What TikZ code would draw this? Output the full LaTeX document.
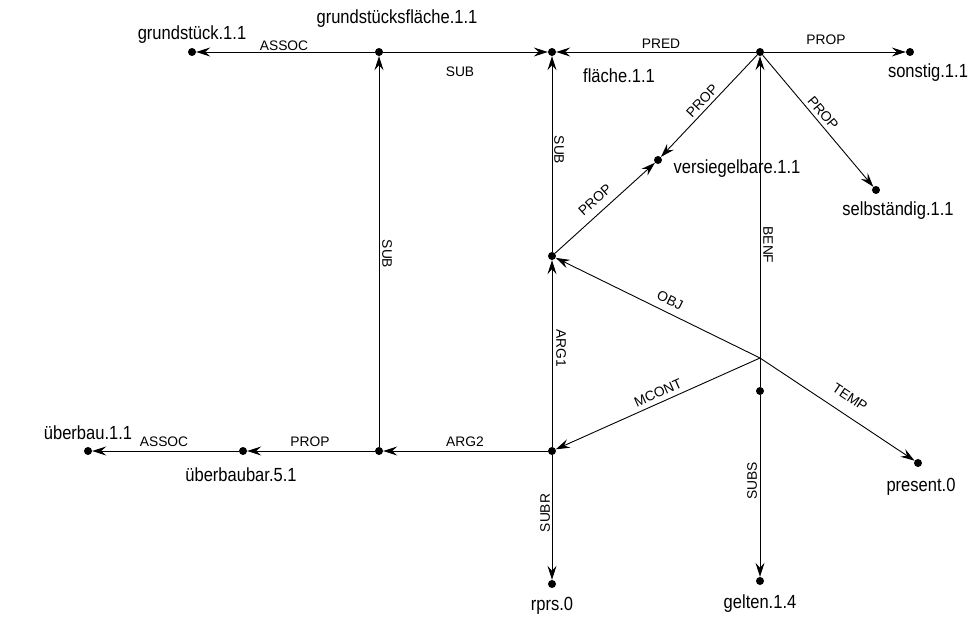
\documentclass[tikz,border=0pt]{standalone}
\usepackage{fontspec}
\setmainfont{Liberation Sans}
\usetikzlibrary{arrows.meta}
\begin{document}
\begin{tikzpicture}[x=1pt,y=-1pt,
  dot/.style={circle,fill=black,inner sep=0pt,minimum size=8pt},
  edge/.style={draw=black,line width=0.9pt,-{Stealth[length=14pt,width=9pt,inset=5pt]}},
  nlab/.style={font=\fontsize{19}{21}\selectfont,inner sep=0pt,xscale=0.87},
  elab/.style={font=\fontsize{13.8}{15}\selectfont,inner sep=0pt}]
\useasboundingbox (0,0) rectangle (970,624);
% nodes
\node[dot] (gs)  at (192,52) {};
\node[dot] (gsf) at (379,52) {};
\node[dot] (fl)  at (552,52) {};
\node[dot] (p)   at (760,52) {};
\node[dot] (so)  at (910,52) {};
\node[dot] (ve)  at (658,160) {};
\node[dot] (se)  at (876,190) {};
\node[dot] (a)   at (552,256) {};
\coordinate (c)  at (760,358);
\node[dot] (d)   at (760,391) {};
\node[dot] (pr)  at (918,463) {};
\node[dot] (ub)  at (88,451) {};
\node[dot] (ubb) at (243,451) {};
\node[dot] (b)   at (379,451) {};
\node[dot] (e)   at (552,451) {};
\node[dot] (rp)  at (552,584) {};
\node[dot] (ge)  at (760,581) {};
% node labels
\node[nlab] (lgs)  at (192,35) {grundstück.1.1};
\node[nlab] (lgsf) at (397,19) {grundstücksfläche.1.1};
\node[nlab] (lfl)  at (619,76) {fläche.1.1};
\node[nlab] (lso)  at (928,73) {sonstig.1.1};
\node[nlab] (lve)  at (737,169) {versiegelbare.1.1};
\node[nlab] (lse)  at (898,211) {selbständig.1.1};
\node[nlab] (lpr)  at (921,487) {present.0};
\node[nlab] (lub)  at (88,433) {überbau.1.1};
\node[nlab] (lubb) at (241,475) {überbaubar.5.1};
\node[nlab] (lrp)  at (552,606) {rprs.0};
\node[nlab] (lge)  at (760,604) {gelten.1.4};
% edges
\draw[edge] (gsf) -- (gs);
\draw[edge] (gsf) -- (fl);
\draw[edge] (p) -- (fl);
\draw[edge] (p) -- (so);
\draw[edge] (p) -- (ve);
\draw[edge] (p) -- (se);
\draw[edge] (a) -- (fl);
\draw[edge] (a) -- (ve);
\draw[edge] (d) -- (p);
\draw[edge] (c) -- (a);
\draw[edge] (c) -- (e);
\draw[edge] (c) -- (pr);
\draw[edge] (d) -- (ge);
\draw[edge] (e) -- (a);
\draw[edge] (e) -- (b);
\draw[edge] (e) -- (rp);
\draw[edge] (b) -- (gsf);
\draw[edge] (b) -- (ubb);
\draw[edge] (ubb) -- (ub);
% edge labels
\node[elab] (t1) at (284,46) {ASSOC};
\node[elab] (t2) at (460,72) {SUB};
\node[elab] (t3) at (661,44) {PRED};
\node[elab] (t4) at (826,40) {PROP};
\node[elab,rotate=46.6] (t5) at (702,101) {PROP};
\node[elab,rotate=-50] (t6) at (823,113) {PROP};
\node[elab,rotate=-90] (t7) at (559,150) {SUB};
\node[elab,rotate=42] (t8) at (595,200) {PROP};
\node[elab,rotate=-90] (t9) at (768,245) {BENF};
\node[elab,rotate=-26] (t10) at (670,300) {OBJ};
\node[elab,rotate=24] (t11) at (658,393) {MCONT};
\node[elab,rotate=-33.6] (t12) at (850,397) {TEMP};
\node[elab,rotate=-90] (t13) at (561,348) {ARG1};
\node[elab,rotate=90] (t14) at (752,481) {SUBS};
\node[elab,rotate=90] (t15) at (545,513) {SUBR};
\node[elab] (t16) at (465,442) {ARG2};
\node[elab] (t17) at (310,442) {PROP};
\node[elab] (t18) at (164,442) {ASSOC};
\node[elab,rotate=-90] (t19) at (387,254) {SUB};
\end{tikzpicture}
\end{document}
